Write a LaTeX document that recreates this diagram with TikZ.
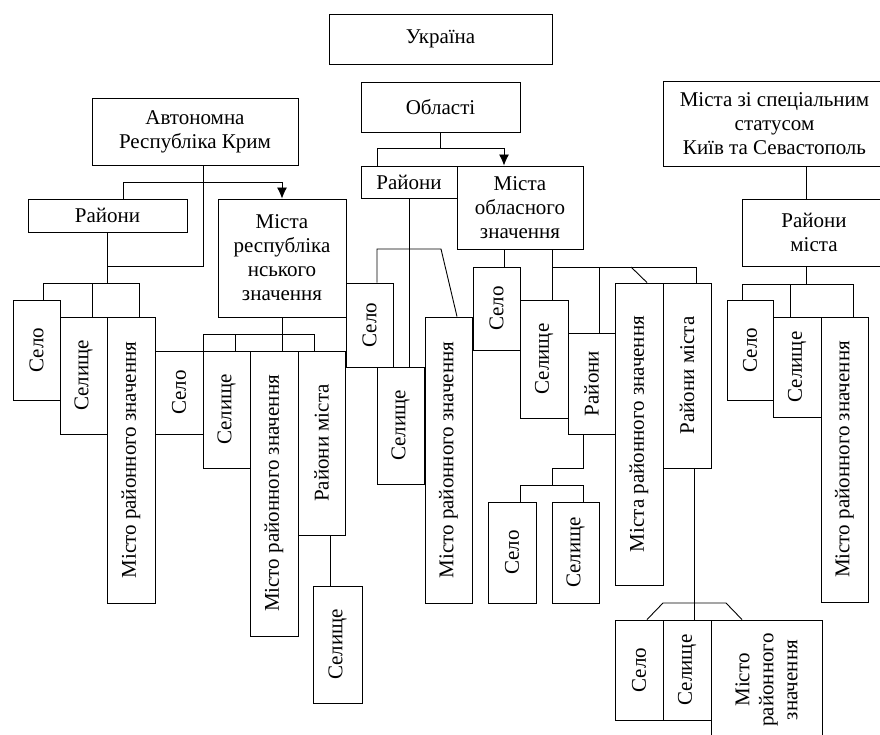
\documentclass[tikz,border=0pt]{standalone}
\usepackage{fontspec}
\setmainfont{Liberation Serif}
\usetikzlibrary{arrows.meta}
\tikzstyle{arrow} = [-{Latex[length=11pt,width=10pt]}]
\tikzstyle{unit} = [rectangle, draw=black, inner sep=0pt, align=center]
\tikzstyle{vunit} = [unit, rotate=90]

\begin{document}
\begin{tikzpicture}[x=1pt, y=-1pt, line width=0.9pt, font=\fontsize{21}{24}\selectfont]
		\clip (0,0) rectangle (880,735);
		% top level
		\node (ukraine) [unit, minimum width=223, minimum height=50] at (440.5,39) {Україна};
		\node (oblasti) [unit, minimum width=159, minimum height=50] at (440.5,107) {Області};
		\node (krym) [unit, minimum width=206, minimum height=67] at (195,131.5) {Автономна\\Республіка Крим};
		\node (special) [unit, minimum width=223, minimum height=85] at (774.5,123.5) {Міста зі спеціальним\\статусом\\Київ та Севастополь};
		% second level
		\node (krymray) [unit, minimum width=159, minimum height=33] at (107.5,215.5) {Райони};
		\node (krymmis) [unit, minimum width=128, minimum height=118] at (282,258) {Міста\\республіка\\нського\\значення};
		\node (oblray) [unit, minimum width=96, minimum height=32] at (409,182) {Райони};
		\node (oblmis) [unit, minimum width=126, minimum height=83] at (520,207.5) {Міста\\обласного\\значення};
		\node (specray) [unit, minimum width=144, minimum height=67] at (814,232.5) {Райони\\міста};
		% Crimea, districts
		\node (kselo) [vunit, minimum width=100, minimum height=47] at (36.5,350) {Село};
		\node (kselyshche) [vunit, minimum width=117, minimum height=47] at (83.5,375.5) {Селище};
		\node (kmisto) [vunit, minimum width=286, minimum height=48] at (131,460) {Місто районного значення};
		% Crimea, cities
		\node (rselo) [vunit, minimum width=83, minimum height=48] at (179,392.5) {Село};
		\node (rselyshche) [vunit, minimum width=117, minimum height=47] at (226.5,409.5) {Селище};
		\node (rmisto) [vunit, minimum width=285, minimum height=48] at (274,493.5) {Місто районного значення};
		\node (rrayony) [vunit, minimum width=184, minimum height=47] at (321.5,443) {Райони міста};
		\node (rselyshche2) [vunit, minimum width=117, minimum height=49] at (337.5,644.5) {Селище};
		% oblast districts
		\node (oselo) [vunit, minimum width=84, minimum height=47] at (369.5,325) {Село};
		\node (oselyshche) [vunit, minimum width=117, minimum height=47] at (400.5,425.5) {Селище};
		\node (omisto) [vunit, minimum width=286, minimum height=47] at (448.5,460) {Місто районного значення};
		% oblast cities
		\node (mselo) [vunit, minimum width=83, minimum height=47] at (496.5,308.5) {Село};
		\node (mselyshche) [vunit, minimum width=118, minimum height=48] at (544,359) {Селище};
		\node (mrayony) [vunit, minimum width=101, minimum height=47] at (591.5,383.5) {Райони};
		\node (mselo2) [vunit, minimum width=101, minimum height=48] at (512,552.5) {Село};
		\node (mselyshche2) [vunit, minimum width=101, minimum height=47] at (575.5,552.5) {Селище};
		\node (mmista) [vunit, minimum width=302, minimum height=48] at (639,434) {Міста районного значення};
		\node (mrmista) [vunit, minimum width=185, minimum height=48] at (687,375.5) {Райони міста};
		\node (dselo) [vunit, minimum width=100, minimum height=48] at (639,670) {Село};
		\node (dselyshche) [vunit, minimum width=100, minimum height=48] at (687,670) {Селище};
		\node (dmisto) [vunit, minimum width=120, minimum height=111] at (766.5,680) {Місто\\районного\\значення};
		% special cities
		\node (sselo) [vunit, minimum width=100, minimum height=46] at (750,350) {Село};
		\node (sselyshche) [vunit, minimum width=100, minimum height=48] at (797,367) {Селище};
		\node (smisto) [vunit, minimum width=285, minimum height=47] at (844.5,459.5) {Місто районного значення};
		% connectors, Crimea
		\draw (krym.south -| 203,0) |- (krymray.south |- 0,266);
		\draw [arrow] (krymray.north -| 123,0) |- (282,182) -- (krymmis.north);
		\draw (krymray.south) -- (krymray.south |- 0,283);
		\draw (kselo.east -| 43,0) -- (43,283) -| (kmisto.east -| 139,0);
		\draw (kselyshche.east -| 92,0) -- (92,283);
		\draw (krymmis.south) -- (krymmis.south |- 0,334);
		\draw (rselo.east -| 203,0) -- (203,334) -| (rrayony.east -| 314,0);
		\draw (rselyshche.east -| 235,0) -- (235,334);
		\draw (rmisto.east -| 282,0) -- (282,334);
		\draw (rrayony.west -| 330,0) -- (rselyshche2.east -| 330,0);
		% connectors, oblast
		\draw (oblasti.south) -- (oblasti.south |- 0,148);
		\draw [arrow] (oblray.north -| 377,0) |- (504,148) -- (oblmis.north -| 504,0);
		\draw (oblray.south) -- (oselyshche.east -| 409,0);
		\draw (oselo.east -| 377,0) |- (441,249) -- (omisto.east -| 457,0);
		\draw (oblmis.south -| 504,0) -- (mselo.east -| 504,0);
		\draw (oblmis.south -| 552,0) -- (mselyshche.east -| 552,0);
		\draw (552,267) -| (mrmista.east -| 696,0);
		\draw (mrayony.east -| 599,0) -- (599,267);
		\draw (631,267) -- (mmista.east -| 647,0);
		\draw (mrayony.west -| 583,0) |- (552,468) -- (552,485);
		\draw (mselo2.east -| 520,0) -- (520,485) -| (mselyshche2.east -| 583,0);
		\draw (mrmista.west -| 694,0) -- (dselyshche.east -| 694,0);
		\draw (dselo.east -| 647,0) -- (663,603) -- (726,603) -- (dmisto.east -| 742,0);
		% connectors, special status
		\draw (special.south -| 806,0) -- (specray.north -| 806,0);
		\draw (specray.south -| 806,0) -- (806,284);
		\draw (sselo.east -| 742,0) -- (742,284) -| (smisto.east -| 853,0);
		\draw (sselyshche.east -| 790,0) -- (790,284);
\end{tikzpicture}
\end{document}
